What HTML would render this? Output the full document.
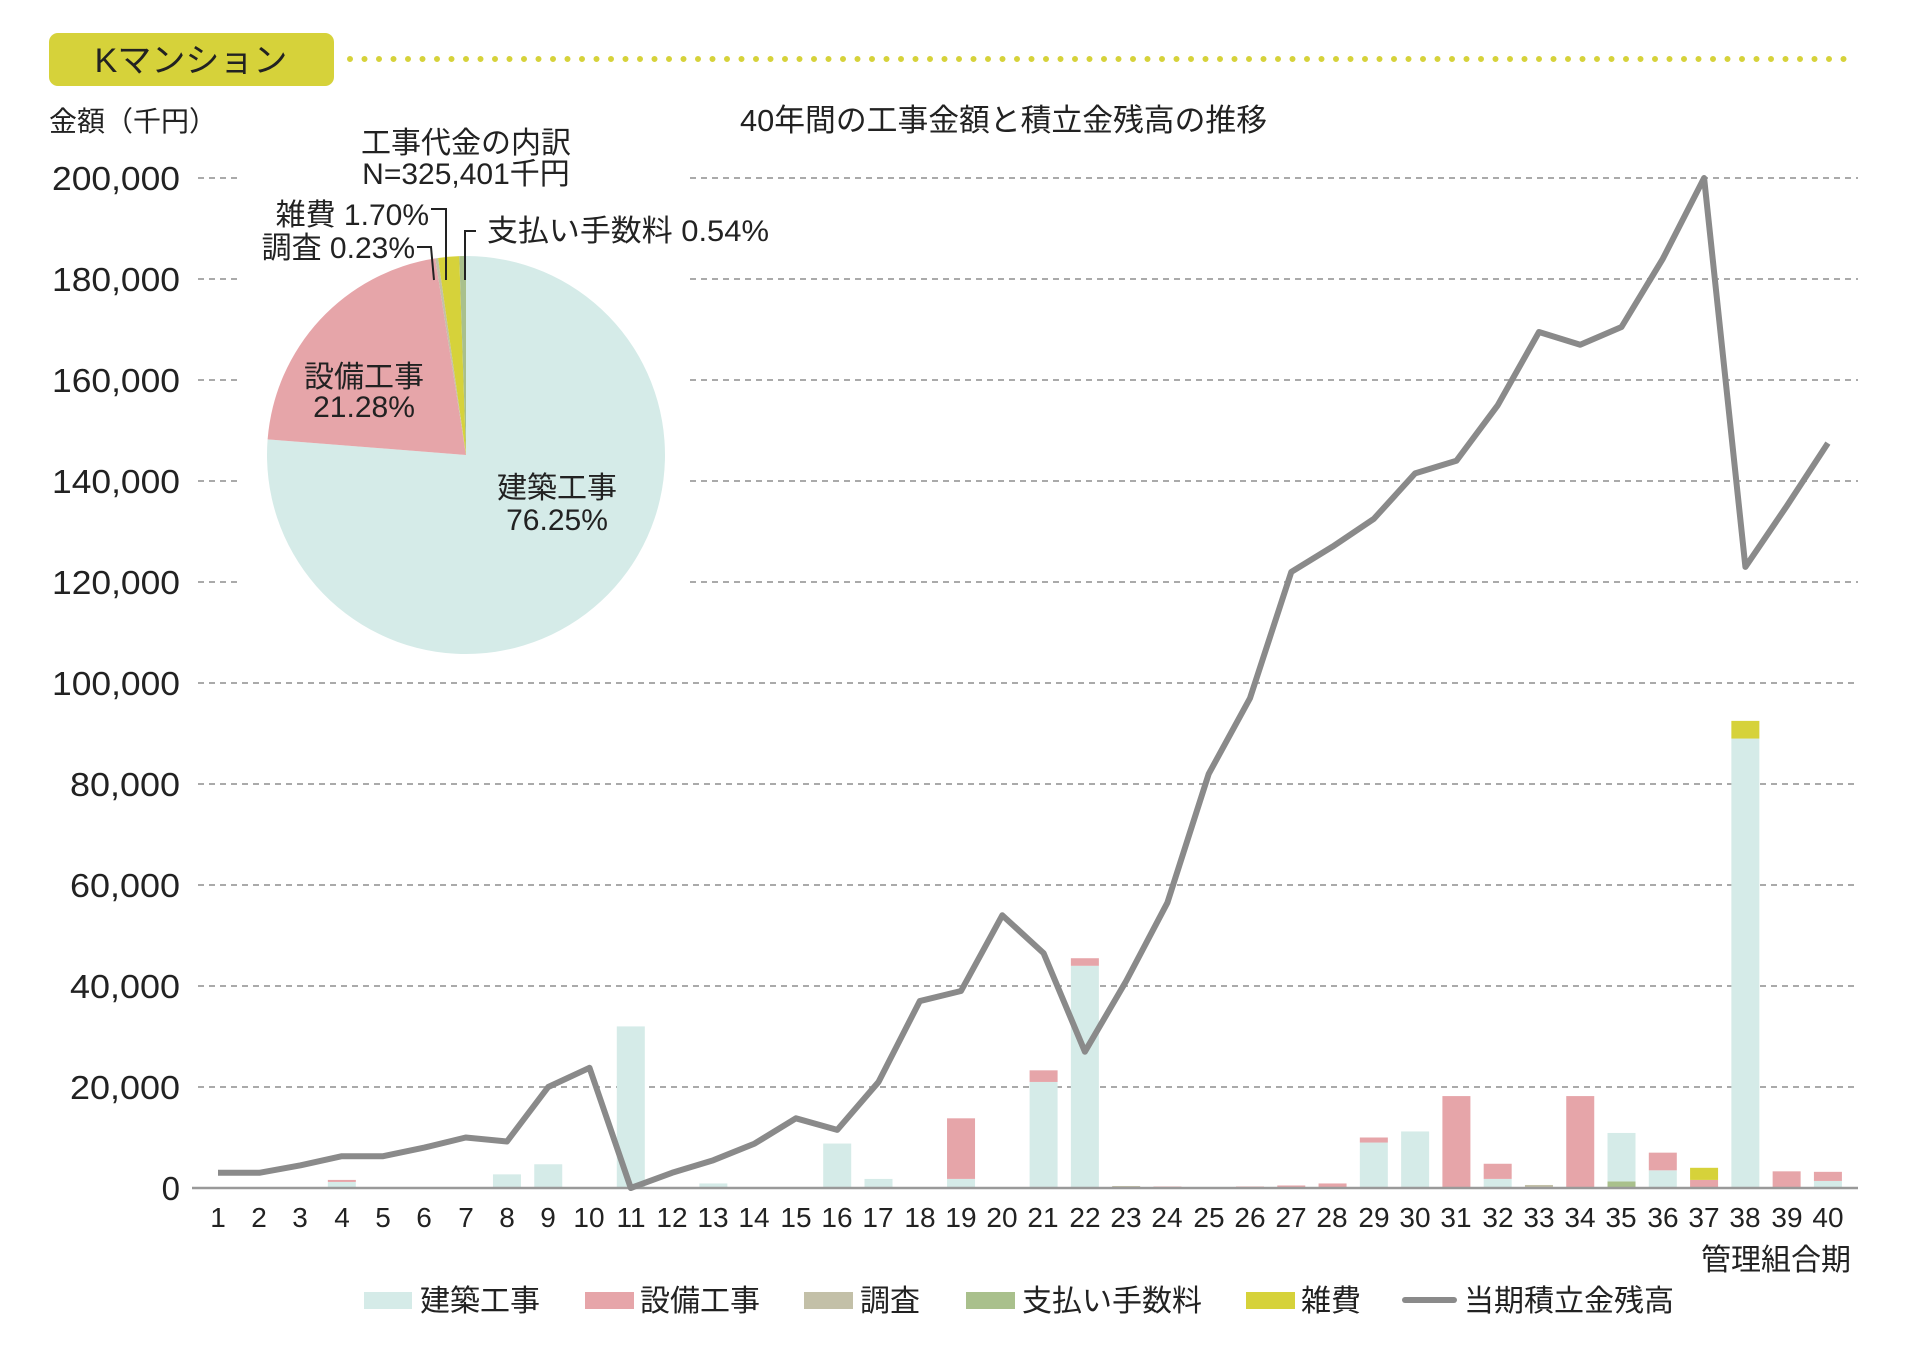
<!DOCTYPE html>
<html><head><meta charset="utf-8"><style>
html,body{margin:0;padding:0;background:#fff;}
svg{display:block;font-family:"Liberation Sans","Noto Sans CJK JP",sans-serif;}
</style></head><body>
<svg id="s" width="1920" height="1346" viewBox="0 0 1920 1346" xmlns="http://www.w3.org/2000/svg">
<rect x="49" y="33" width="285" height="53" rx="9" fill="#d6d23a"/>
<text x="191" y="72" font-size="34" text-anchor="middle" fill="#222">Kマンション</text>
<line x1="350" y1="59" x2="1856" y2="59" stroke="#d6d23a" stroke-width="6" stroke-linecap="round" stroke-dasharray="0 14.5"/>
<text x="49" y="131" font-size="28" fill="#222">金額（千円）</text>
<text x="740" y="131" font-size="31" fill="#222" textLength="527" lengthAdjust="spacingAndGlyphs">40年間の工事金額と積立金残高の推移</text>
<g id="grid"></g>
<g font-size="33" fill="#222" text-anchor="end">
<text x="180" y="190" textLength="128" lengthAdjust="spacingAndGlyphs">200,000</text>
<text x="180" y="291" textLength="128" lengthAdjust="spacingAndGlyphs">180,000</text>
<text x="180" y="392" textLength="128" lengthAdjust="spacingAndGlyphs">160,000</text>
<text x="180" y="493" textLength="128" lengthAdjust="spacingAndGlyphs">140,000</text>
<text x="180" y="594" textLength="128" lengthAdjust="spacingAndGlyphs">120,000</text>
<text x="180" y="695" textLength="128" lengthAdjust="spacingAndGlyphs">100,000</text>
<text x="180" y="796" textLength="110" lengthAdjust="spacingAndGlyphs">80,000</text>
<text x="180" y="897" textLength="110" lengthAdjust="spacingAndGlyphs">60,000</text>
<text x="180" y="998" textLength="110" lengthAdjust="spacingAndGlyphs">40,000</text>
<text x="180" y="1099" textLength="110" lengthAdjust="spacingAndGlyphs">20,000</text>
<text x="180" y="1200">0</text>
</g>
<g id="bars"></g>
<line x1="192" y1="1188" x2="1858" y2="1188" stroke="#999" stroke-width="2.5"/>
<polyline id="ln" fill="none" stroke="#8a8a8a" stroke-width="6" stroke-linejoin="round"/>
<g id="xl" font-size="28" fill="#222" text-anchor="middle">
<text x="218" y="1227">1</text><text x="259" y="1227">2</text><text x="300" y="1227">3</text><text x="342" y="1227">4</text><text x="383" y="1227">5</text><text x="424" y="1227">6</text><text x="466" y="1227">7</text><text x="507" y="1227">8</text><text x="548" y="1227">9</text><text x="589" y="1227">10</text>
<text x="631" y="1227">11</text><text x="672" y="1227">12</text><text x="713" y="1227">13</text><text x="754" y="1227">14</text><text x="796" y="1227">15</text><text x="837" y="1227">16</text><text x="878" y="1227">17</text><text x="920" y="1227">18</text><text x="961" y="1227">19</text><text x="1002" y="1227">20</text>
<text x="1043" y="1227">21</text><text x="1085" y="1227">22</text><text x="1126" y="1227">23</text><text x="1167" y="1227">24</text><text x="1209" y="1227">25</text><text x="1250" y="1227">26</text><text x="1291" y="1227">27</text><text x="1332" y="1227">28</text><text x="1374" y="1227">29</text><text x="1415" y="1227">30</text>
<text x="1456" y="1227">31</text><text x="1498" y="1227">32</text><text x="1539" y="1227">33</text><text x="1580" y="1227">34</text><text x="1621" y="1227">35</text><text x="1663" y="1227">36</text><text x="1704" y="1227">37</text><text x="1745" y="1227">38</text><text x="1787" y="1227">39</text><text x="1828" y="1227">40</text>
</g>
<text x="1851" y="1270" font-size="30" fill="#222" text-anchor="end">管理組合期</text>
<g id="pie"></g>
<g font-size="30" fill="#222" text-anchor="middle">
<text x="466" y="153">工事代金の内訳</text>
<text x="466" y="184">N=325,401千円</text>
</g>
<g font-size="30" fill="#222">
<text x="429" y="225" text-anchor="end">雑費 1.70%</text>
<text x="415" y="258" text-anchor="end">調査 0.23%</text>
<text x="487" y="241" textLength="282" lengthAdjust="spacingAndGlyphs">支払い手数料 0.54%</text>
</g>
<g stroke="#222" stroke-width="2" fill="none">
<polyline points="431,209 446,209 446,280"/>
<polyline points="417,247 431,247 434,280"/>
<polyline points="476,231 465,231 465,280"/>
</g>
<g font-size="30" fill="#222" text-anchor="middle">
<text x="364" y="387">設備工事</text><text x="364" y="417">21.28%</text>
<text x="557" y="498">建築工事</text><text x="557" y="530">76.25%</text>
</g>
<g font-size="30" fill="#222">
<rect x="364" y="1292" width="48" height="17" fill="#d5ebe8"/><text x="420" y="1311">建築工事</text>
<rect x="585" y="1292" width="49" height="17" fill="#e6a5a9"/><text x="640" y="1311">設備工事</text>
<rect x="804" y="1292" width="49" height="17" fill="#c3c0a8"/><text x="860" y="1311">調査</text>
<rect x="966" y="1292" width="49" height="17" fill="#a9c08c"/><text x="1022" y="1311">支払い手数料</text>
<rect x="1246" y="1292" width="49" height="17" fill="#d6d23a"/><text x="1301" y="1311">雑費</text>
<line x1="1405" y1="1300" x2="1454" y2="1300" stroke="#8a8a8a" stroke-width="6" stroke-linecap="round"/><text x="1464" y="1311">当期積立金残高</text>
</g>
<script>
(function(){
var NS="http://www.w3.org/2000/svg";
function el(t,a,p){var e=document.createElementNS(NS,t);for(var k in a)e.setAttribute(k,a[k]);p.appendChild(e);return e;}
function X(i){return 218+(i-1)*41.28;}
function Y(v){return 1188-v/200000*1010;}
var g=document.getElementById('grid');
for(var k=1;k<=10;k++){var y=Y(k*20000);
 if(k>=6){el('line',{x1:198,y1:y,x2:240,y2:y,stroke:'#aaa','stroke-width':2,'stroke-dasharray':'6 5'},g);
  el('line',{x1:690,y1:y,x2:1858,y2:y,stroke:'#aaa','stroke-width':2,'stroke-dasharray':'6 5'},g);}
 else el('line',{x1:198,y1:y,x2:1858,y2:y,stroke:'#aaa','stroke-width':2,'stroke-dasharray':'6 5'},g);}
var cols=['#d5ebe8','#e6a5a9','#c3c0a8','#a9c08c','#d6d23a'];
var B={4:[1200,400],8:[2700],9:[4700],11:[32000],13:[900],16:[8800],17:[1800],19:[1800,12000],21:[21000,2300],22:[44000,1500],23:[0,0,400],24:[0,300],26:[0,300],27:[0,500],28:[200,700],29:[9000,1000],30:[11200],31:[0,18200],32:[1800,3000],33:[0,0,600],34:[0,18200],35:[9600,0,0,1300],36:[3500,3500],37:[0,1600,0,0,2400],38:[89000,0,0,0,3500],39:[0,3300],40:[1400,1800]};
var bg=document.getElementById('bars');
for(var i in B){var a=B[i];var base=0;
 var order=(i==35)?[3,0]:[0,1,2,3,4];
 order.forEach(function(j){var v=a[j]||0;if(!v)return;
  el('rect',{x:X(+i)-14,y:Y(base+v),width:28,height:Y(base)-Y(base+v),fill:cols[j]},bg);base+=v;});}
var L=[3000,3000,4500,6300,6300,8000,10000,9200,20000,23800,0,3000,5500,8800,13800,11500,21000,37000,39000,54000,46500,27000,41000,56500,82000,97000,122000,127000,132500,141500,144000,155000,169500,167000,170500,184000,200000,123000,135000,147500];
document.getElementById('ln').setAttribute('points',L.map(function(v,k){return X(k+1).toFixed(1)+','+Y(v).toFixed(1);}).join(' '));
var p=document.getElementById('pie');var cx=466,cy=455,r=199;
var sl=[[76.25,'#d5ebe8'],[21.28,'#e6a5a9'],[0.23,'#c3c0a8'],[1.70,'#d6d23a'],[0.54,'#a9c08c']];
var tot=0;sl.forEach(function(s){tot+=s[0];});
var a0=0;
sl.forEach(function(s){var a1=a0+s[0]/tot*360;
 var t0=(a0-90)*Math.PI/180,t1=(a1-90)*Math.PI/180;
 var d='M'+cx+','+cy+' L'+(cx+r*Math.cos(t0))+','+(cy+r*Math.sin(t0))+' A'+r+','+r+' 0 '+((a1-a0)>180?1:0)+' 1 '+(cx+r*Math.cos(t1))+','+(cy+r*Math.sin(t1))+' Z';
 el('path',{d:d,fill:s[1]},p);a0=a1;});
})();
</script>
</svg>
</body></html>
